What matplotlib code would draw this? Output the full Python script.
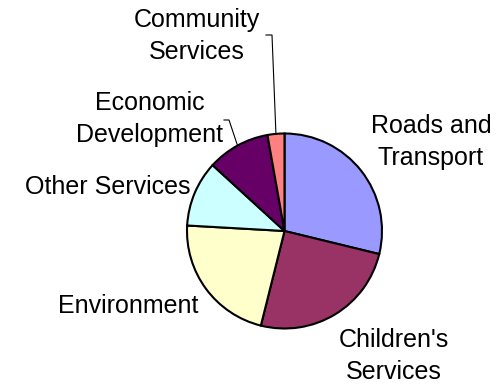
import matplotlib.pyplot as plt
import numpy as np

# ---- data ----
labels = ['Roads and\nTransport', "Children's\nServices", 'Environment',
          'Other Services', 'Economic\nDevelopment', 'Community\nServices']
shares = [28.8, 25.1, 22.0, 10.9, 10.4, 2.8]
colors = ['#9999FF', '#993366', '#FFFFCC', '#CCFFFF', '#660066', '#FF8080']

# label centres in pixel coords (from top-left)
label_pos = [(431, 142), (394, 356), (128, 306), (108, 187), (150, 119), (197, 36)]

W, H = 502, 386
fig = plt.figure(figsize=(W / 100, H / 100), dpi=100)
ax = fig.add_axes([0, 0, 1, 1])

cx, cy, r = 284.5, H - 231, 97.5
wedges, _ = ax.pie(shares, colors=colors, startangle=90, counterclock=False,
                   center=(cx, cy), radius=r, frame=True,
                   wedgeprops=dict(edgecolor='black', linewidth=1.5))
ax.set_xlim(0, W)
ax.set_ylim(0, H)
ax.axis('off')

for lab, (px, py) in zip(labels, label_pos):
    ax.text(px, H - py, lab, ha='center', va='center', fontsize=18,
            family='Liberation Sans', linespacing=1.45, color='black')

# leader lines for the two small slices
for w, (x0, y0), (x1, y1) in [
        (wedges[4], (224, 120), (229, 120)),
        (wedges[5], (266, 35), (272, 35))]:
    mid = np.deg2rad((w.theta1 + w.theta2) / 2)
    ex, ey = cx + r * np.cos(mid), cy + r * np.sin(mid)
    ax.plot([x0, x1, ex], [H - y0, H - y1, ey], color='black', lw=0.8)

fig.savefig('out.png', dpi=100, facecolor='white')
